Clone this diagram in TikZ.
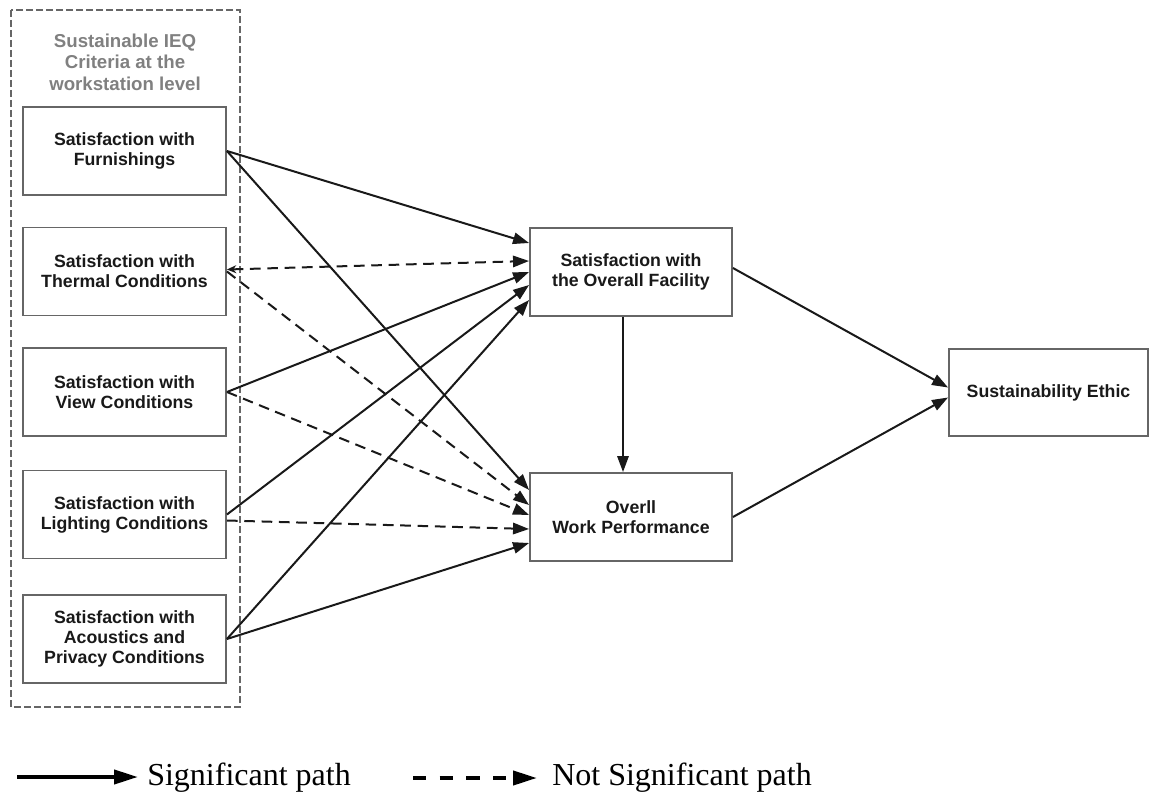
\documentclass[tikz,border=0pt]{standalone}
\usepackage{fontspec}
\setmainfont{Liberation Serif}
\newfontfamily\boxfont{Liberation Sans}
\usetikzlibrary{arrows.meta,calc}

\tikzset{
  factor/.style={draw=black!60, line width=1.4pt, fill=white, inner sep=0pt,
    minimum width=152.25pt, minimum height=66pt, align=center,
    font=\boxfont\bfseries\fontsize{13.3}{15}\selectfont, text=black!90},
  outcome/.style={factor, minimum width=151.5pt},
  sig/.style={draw=black!90, line width=1.5pt, -{Triangle[length=12pt,width=8.5pt]}},
  nsig/.style={sig, dash pattern=on 8pt off 5pt},
  legsig/.style={draw=black, line width=3pt, -{Triangle[length=18pt,width=10.5pt]}},
  legnsig/.style={legsig, dash pattern=on 10pt off 10pt},
  legtext/.style={anchor=base west, inner sep=0pt, font=\fontsize{24}{28}\selectfont}
}

\begin{document}
\begin{tikzpicture}[x=0.75pt, y=-0.75pt]
\useasboundingbox (0,0) rectangle (1150,792);

% group frame for the workstation-level criteria
\draw[black!60, line width=1.1pt, dash pattern=on 5pt off 2.5pt] (11,10) rectangle (240,707);
\node[align=center, text=black!50, font=\boxfont\bfseries\fontsize{14}{16.2}\selectfont] (grp) at (125,62)
  {Sustainable IEQ\\Criteria at the\\workstation level};

% predictors
\node[factor] (furn) at (124.5,151)   {Satisfaction with\\Furnishings};
\node[factor] (therm) at (124.5,271.5) {Satisfaction with\\Thermal Conditions};
\node[factor] (view) at (124.5,392)   {Satisfaction with\\View Conditions};
\node[factor] (light) at (124.5,514.5) {Satisfaction with\\Lighting Conditions};
\node[factor] (acou) at (124.5,639)   {Satisfaction with\\Acoustics and\\Privacy Conditions};

% mediators and outcome
\node[outcome] (fac) at (631,272) {Satisfaction with\\the Overall Facility};
\node[outcome] (wp) at (631,517) {Overll\\Work Performance};
\node[outcome, minimum width=149.25pt, minimum height=65.25pt] (eth) at (1048.5,392.5) {Sustainability Ethic};

% paths to overall facility satisfaction
\draw[sig]  (furn.east)  -- ($(fac.west)+(0,-29)$);
\draw[nsig, {Stealth[length=7pt,width=6pt]}-{Triangle[length=12pt,width=8.5pt]}]
            ($(therm.east)+(0,-2)$) -- ($(fac.west)+(0,-11)$);
\draw[sig]  (view.east)  -- ($(fac.west)+(0,0)$);
\draw[sig]  (light.east) -- ($(fac.west)+(0,13)$);
\draw[sig]  (acou.east)  -- ($(fac.west)+(0,28)$);

% paths to work performance
\draw[sig]  (furn.east)  -- ($(wp.west)+(0,-27)$);
\draw[nsig] (therm.east) -- ($(wp.west)+(0,-12)$);
\draw[nsig] (view.east)  -- ($(wp.west)+(0,-2)$);
\draw[nsig] ($(light.east)+(0,6)$) -- ($(wp.west)+(0,12)$);
\draw[sig]  (acou.east)  -- ($(wp.west)+(0,26)$);

% facility -> performance, and both -> ethic
\draw[sig] ($(fac.south)+(-8,0)$) -- ($(wp.north)+(-8,0)$);
\draw[sig] ($(fac.east)+(0,-4)$) -- ($(eth.west)+(0,-5)$);
\draw[sig] (wp.east) -- ($(eth.west)+(0,5)$);

% legend
\coordinate (la) at (17,777);
\coordinate (lb) at (138,777);
\node[legtext] (lt) at (147,785) {Significant path};
\draw[legsig] (la) -- (lb);
\coordinate (lc) at (413,778);
\coordinate (ld) at (537,778);
\node[legtext] (lu) at (552,785) {Not Significant path};
\draw[legnsig] (lc) -- (ld);
\end{tikzpicture}
\end{document}
